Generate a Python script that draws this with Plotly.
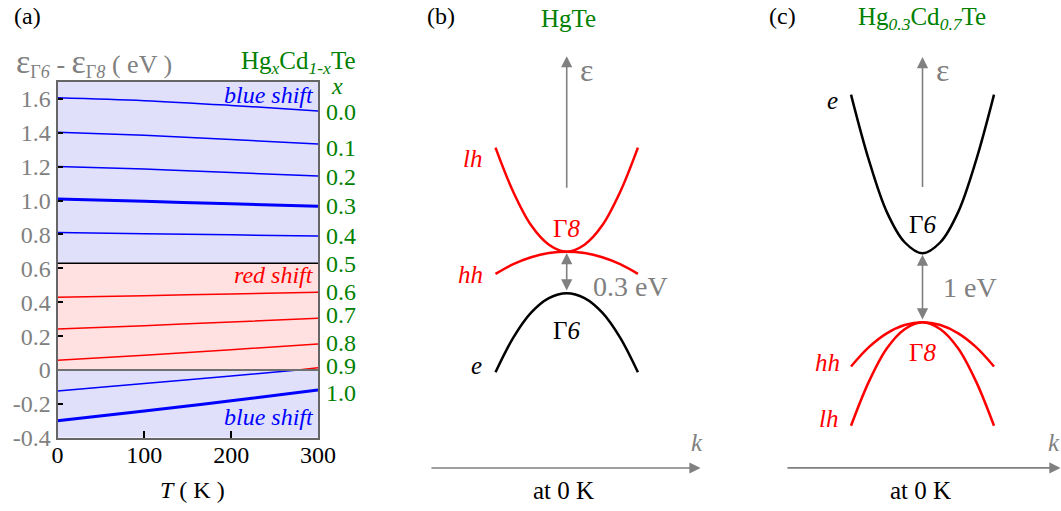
import plotly.graph_objects as go

W, H = 1061, 511
SERIF = "Liberation Serif"
GRAY = "#808080"
GREEN = "#008000"
BLUE = "#0000ff"
RED = "#ff0000"

# ---------------- panel (a): E(Γ6) - E(Γ8) versus temperature ----------------
T = [0, 100, 200, 300]
gap_x00 = [1.607, 1.590, 1.562, 1.529]
gap_x01 = [1.403, 1.385, 1.360, 1.334]
gap_x02 = [1.202, 1.186, 1.166, 1.145]
gap_x03 = [1.009, 0.996, 0.981, 0.966]
gap_x04 = [0.811, 0.805, 0.798, 0.791]
gap_x06 = [0.429, 0.439, 0.449, 0.459]
gap_x07 = [0.242, 0.262, 0.284, 0.305]
gap_x08 = [0.057, 0.087, 0.120, 0.153]
T_x09 = [0, 100, 200, 277, 300]
gap_x09 = [-0.124, -0.080, -0.035, 0.0, 0.014]
gap_x10 = [-0.299, -0.242, -0.181, -0.118]

red_shift_band = [0.0, 0.63]
y_tick_vals = [-0.4, -0.2, 0, 0.2, 0.4, 0.6, 0.8, 1.0, 1.2, 1.4, 1.6]
y_tick_text = ["-0.4", "-0.2", "0", "0.2", "0.4", "0.6", "0.8", "1.0", "1.2", "1.4", "1.6"]
t_tick_vals = [0, 100, 200, 300]
t_tick_text = ["0", "100", "200", "300"]
x_labels = ["0.0", "0.1", "0.2", "0.3", "0.4", "0.5", "0.6", "0.7", "0.8",
            "0.9", "1.0"]

# ---------------- panels (b) and (c): schematic bands at 0 K ----------------
k = [-1, -0.75, -0.5, -0.25, 0, 0.25, 0.5, 0.75, 1]
hgte_lh = [0.75, 0.43, 0.19, 0.05, 0, 0.05, 0.19, 0.43, 0.75]
hgte_hh = [-0.16, -0.09, -0.04, -0.01, 0, -0.01, -0.04, -0.09, -0.16]
hgte_e = [-0.87, -0.62, -0.44, -0.335, -0.3, -0.335, -0.44, -0.62, -0.87]
hgte_gap = 0.3

mct_e = [3.30, 2.35, 1.60, 1.16, 1.0, 1.16, 1.60, 2.35, 3.30]
mct_hh = [-0.64, -0.36, -0.16, -0.04, 0, -0.04, -0.16, -0.36, -0.64]
mct_lh = [-1.5, -0.86, -0.38, -0.10, 0, -0.10, -0.38, -0.86, -1.5]
mct_gap = 1.0


def px(x):
    return x / W


def py(y):
    return 1 - y / H


fig = go.Figure()


def add_line(x, y, color, width, xa="x", ya="y"):
    fig.add_trace(go.Scatter(
        x=x, y=y, mode="lines", xaxis=xa, yaxis=ya,
        line=dict(color=color, width=width, shape="spline", smoothing=1.0),
        hoverinfo="skip", showlegend=False))


# panel (a) curves
for vals, w in [(gap_x00, 1.5), (gap_x01, 1.5), (gap_x02, 1.5),
                (gap_x03, 3), (gap_x04, 1.5)]:
    add_line(T, vals, BLUE, w)
for vals in [gap_x06, gap_x07, gap_x08]:
    add_line(T, vals, RED, 1.5)
neg = [(t, v) for t, v in zip(T_x09, gap_x09) if v <= 0]
pos = [(t, v) for t, v in zip(T_x09, gap_x09) if v >= 0]
add_line([p[0] for p in neg], [p[1] for p in neg], BLUE, 1.5)
add_line([p[0] for p in pos], [p[1] for p in pos], RED, 1.5)
add_line(T, gap_x10, BLUE, 3)

# panel (b) bands
add_line(k, hgte_lh, RED, 2.5, "x2", "y2")
add_line(k, hgte_hh, RED, 2.5, "x2", "y2")
add_line(k, hgte_e, "black", 2.5, "x2", "y2")

# panel (c) bands
add_line(k, mct_e, "black", 2.5, "x3", "y3")
add_line(k, mct_hh, RED, 2.5, "x3", "y3")
add_line(k, mct_lh, RED, 2.5, "x3", "y3")

shapes = [
    dict(type="rect", xref="x", yref="y", x0=0, x1=300, y0=-0.4, y1=1.7,
         fillcolor="#e0e0fa", line=dict(width=0), layer="below"),
    dict(type="rect", xref="x", yref="y", x0=0, x1=300,
         y0=red_shift_band[0], y1=red_shift_band[1],
         fillcolor="#ffe1e1", line=dict(width=0), layer="below"),
    dict(type="line", xref="x", yref="y", x0=0, x1=300,
         y0=red_shift_band[1], y1=red_shift_band[1],
         line=dict(color="black", width=1.5)),
    dict(type="line", xref="x", yref="y", x0=0, x1=300, y0=0, y1=0,
         line=dict(color="#707070", width=2)),
]

ann = []


def text(x, y, s, size, color="black", xanchor="center", yanchor="middle"):
    ann.append(dict(x=px(x), y=py(y), xref="paper", yref="paper", text=s,
                    showarrow=False, xanchor=xanchor, yanchor=yanchor,
                    font=dict(family=SERIF, size=size, color=color)))


def arrow(xa, ya, x0, y0, x1, y1, both=False):
    d = dict(x=x1, y=y1, ax=x0, ay=y0, xref=xa, yref=ya, axref=xa, ayref=ya,
             text="", showarrow=True, arrowhead=2, arrowsize=1.4,
             arrowwidth=1.6, arrowcolor=GRAY, standoff=0, startstandoff=0)
    if both:
        d.update(arrowside="end+start", startarrowhead=2, startarrowsize=1.4)
    ann.append(d)


EPS = '<span style="font-size:34px">ε</span>'

# panel (a) texts
text(27, 16, "(a)", 24)
text(14, 62, EPS + "<sub>Γ<i>6</i></sub> - " + EPS + "<sub>Γ<i>8</i></sub> ( eV )",
     26, GRAY, xanchor="left")
text(358, 62, "Hg<sub><i>x</i></sub>Cd<sub><i>1-x</i></sub>Te", 25, GREEN,
     xanchor="right")
text(337, 86, "<i>x</i>", 24, GREEN)
text(316, 95, "<i>blue shift</i>", 24, BLUE, xanchor="right")
text(316, 275, "<i>red shift</i>", 24, RED, xanchor="right")
text(316, 417, "<i>blue shift</i>", 24, BLUE, xanchor="right")
text(192, 490, "<i>T</i> ( K )", 24)

# composition labels sit at the right-hand end of each curve
label_vals = [gap_x00[-1], gap_x01[-1], gap_x02[-1], gap_x03[-1], gap_x04[-1],
              red_shift_band[1], gap_x06[-1], gap_x07[-1], gap_x08[-1],
              gap_x09[-1], gap_x10[-1]]
label_nudge = [-1, -4, -1, 0, 0, -1, 0, 3, 1, 2, -3]
for v, s, dy in zip(label_vals, x_labels, label_nudge):
    ann.append(dict(x=300, y=v, xref="x", yref="y", text=s, showarrow=False,
                    xanchor="left", yanchor="middle", xshift=6, yshift=dy,
                    font=dict(family=SERIF, size=24, color=GREEN)))

# panel (b) texts and arrows
text(441, 16, "(b)", 24)
text(568, 18, "HgTe", 25, GREEN)
text(578, 70, "ε", 32, GRAY, xanchor="left")
text(472, 158, "<i>lh</i>", 25, RED)
text(566, 228, "Γ<i>8</i>", 25, RED)
text(470, 274, "<i>hh</i>", 25, RED)
text(630, 286, "0.3 eV", 28, GRAY)
text(566, 330, "Γ<i>6</i>", 25)
text(476, 365, "<i>e</i>", 25)
text(697, 442, "<i>k</i>", 25, GRAY)
text(563, 490, "at 0 K", 25)
arrow("x2", "y2", 0, 0.45, 0, 1.41)
arrow("x2", "y2", 0, -hgte_gap + 0.01, 0, -0.01, both=True)
arrow("x2", "y2", -1.92, -1.56, 1.88, -1.56)

# panel (c) texts and arrows
text(782, 16, "(c)", 24)
text(922, 18, "Hg<sub><i>0.3</i></sub>Cd<sub><i>0.7</i></sub>Te", 25, GREEN)
text(934, 70, "ε", 32, GRAY, xanchor="left")
text(832, 100, "<i>e</i>", 25)
text(922, 225, "Γ<i>6</i>", 25)
text(970, 287, "1 eV", 28, GRAY)
text(922, 352, "Γ<i>8</i>", 25, RED)
text(827, 362, "<i>hh</i>", 25, RED)
text(828, 418, "<i>lh</i>", 25, RED)
text(1054, 442, "<i>k</i>", 25, GRAY)
text(920, 490, "at 0 K", 25)
arrow("x3", "y3", 0, 1.94, 0, 3.845)
arrow("x3", "y3", 0, 0.02, 0, mct_gap - 0.02, both=True)
arrow("x3", "y3", -1.91, -2.11, 1.93, -2.11)

fig.update_layout(
    width=W, height=H,
    margin=dict(l=0, r=0, t=0, b=0, pad=0, autoexpand=False),
    paper_bgcolor="white", plot_bgcolor="rgba(0,0,0,0)",
    shapes=shapes, annotations=ann, showlegend=False,
    font=dict(family=SERIF),
    xaxis=dict(domain=[px(57.5), px(318)], range=[0, 300], anchor="y",
               tickvals=t_tick_vals, ticktext=t_tick_text, ticks="inside",
               ticklen=7, tickwidth=1.5, tickcolor="black",
               ticklabelstandoff=-6,
               tickfont=dict(family=SERIF, size=24, color="black"),
               showline=True, mirror=True, linecolor="#666666", linewidth=2,
               showgrid=False, zeroline=False, fixedrange=True,
               automargin=False),
    yaxis=dict(domain=[py(437.8), py(82)], range=[-0.4, 1.7], anchor="x",
               tickvals=y_tick_vals, ticktext=y_tick_text, ticks="inside",
               ticklen=5, tickwidth=1.5, tickcolor="black",
               tickfont=dict(family=SERIF, size=24, color=GRAY),
               showline=True, mirror=True, linecolor="#666666", linewidth=2,
               showgrid=False, zeroline=False, fixedrange=True,
               automargin=False),
    xaxis2=dict(domain=[px(420), px(712)], range=[-2.06, 2.04], anchor="y2",
                visible=False, fixedrange=True),
    yaxis2=dict(domain=[0, 1], range=[-1.870, 1.815], anchor="x2",
                visible=False, fixedrange=True),
    xaxis3=dict(domain=[px(772), 1.0], range=[-2.105, 1.937], anchor="y3",
                visible=False, fixedrange=True),
    yaxis3=dict(domain=[0, 1], range=[-2.735, 4.671], anchor="x3",
                visible=False, fixedrange=True),
)

fig.write_html("out.html")
